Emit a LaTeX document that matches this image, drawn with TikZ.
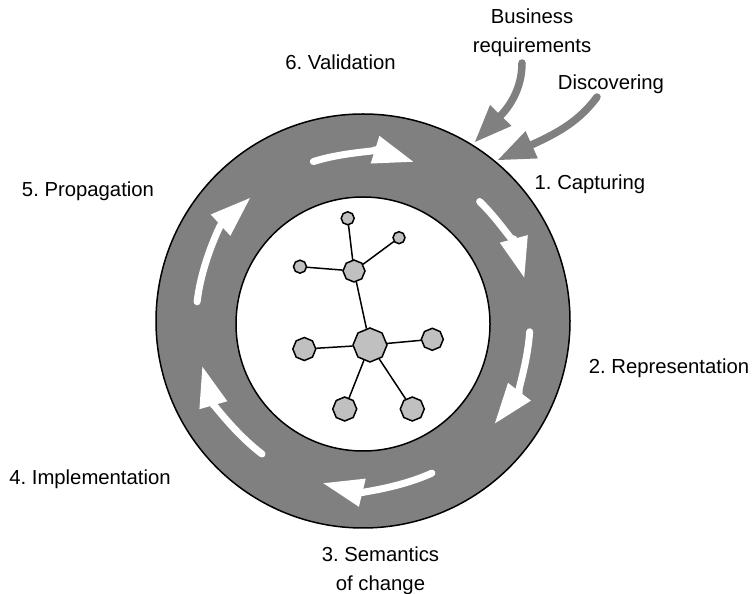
\documentclass[tikz,border=0pt]{standalone}
\usepackage{fontspec}
\setmainfont{Liberation Sans}
\usetikzlibrary{arrows.meta,shapes.geometric}
\definecolor{ringgray}{HTML}{808080}
\definecolor{nodegray}{HTML}{C0C0C0}
\frenchspacing
\begin{document}
\begin{tikzpicture}[x=1pt,y=1pt,
  lbl/.style={font=\fontsize{20.3}{28.7}\selectfont, inner sep=0pt, align=center},
  vertex/.style={regular polygon, regular polygon sides=8, regular polygon rotate=22.5,
                 draw=black, line width=1.5pt, fill=nodegray, inner sep=0pt},
  link/.style={line width=1.5pt},
  flow/.style={white, line width=7pt, line cap=round,
               -{Triangle[length=40pt,width=29pt,line width=0pt]}},
  feed/.style={ringgray, line width=7.5pt, line cap=round,
               -{Triangle[length=37pt,width=30pt,line width=0pt]}},
]
\useasboundingbox (0,0) rectangle (752,594);

% the ring
\coordinate (C) at (363,273);
\coordinate (I) at (363,270);
\draw[line width=1.5pt, fill=ringgray] (C) circle[radius=207];
\draw[line width=1.5pt, fill=white] (I) circle[radius=127];

% clockwise cycle arrows inside the ring
\draw[flow] ([shift={(107.3:167)}]C) arc[start angle=107.3, end angle=72.5, radius=167];
\draw[flow] ([shift={(45.7:167)}]C)  arc[start angle=45.7,  end angle=15.1, radius=167];
\draw[flow] ([shift={(-3.7:167)}]C)  arc[start angle=-3.7,  end angle=-37.8, radius=167];
\draw[flow] ([shift={(-65.6:167)}]C) arc[start angle=-65.6, end angle=-103.7, radius=167];
\draw[flow] ([shift={(232.8:167)}]C) arc[start angle=232.8, end angle=195.9, radius=167];
\draw[flow] ([shift={(173.4:167)}]C) arc[start angle=173.4, end angle=132.6, radius=167];

% ontology graph in the centre
\node[vertex, minimum size=13pt] (n1)  at (347.7,375.7) {};
\node[vertex, minimum size=12pt] (n2)  at (399,356.3) {};
\node[vertex, minimum size=13pt] (n3)  at (300,327.3) {};
\node[vertex, minimum size=22pt] (hub) at (354,323) {};
\node[vertex, minimum size=34pt] (ctr) at (370,249) {};
\node[vertex, minimum size=23pt] (lf)  at (304.3,245) {};
\node[vertex, minimum size=22pt] (rt)  at (432.3,254.7) {};
\node[vertex, minimum size=24pt] (bl)  at (344.7,185) {};
\node[vertex, minimum size=24pt] (br)  at (412.3,185) {};
\draw[link] (n1) -- (hub);
\draw[link] (n2) -- (hub);
\draw[link] (n3) -- (hub);
\draw[link] (hub) -- (ctr);
\draw[link] (ctr) -- (lf);
\draw[link] (ctr) -- (rt);
\draw[link] (ctr) -- (bl);
\draw[link] (ctr) -- (br);

% labels
\node[lbl] (bus)  at (532,560.9) {Business\\requirements};
\node[lbl, anchor=base] (disc) at (611,504) {Discovering};
\node[lbl, anchor=base] (val)  at (340.5,524) {6. Validation};
\node[lbl, anchor=base] (cap)  at (590,404) {1. Capturing};
\node[lbl, anchor=base] (rep)  at (669,220.7) {2. Representation};
\node[lbl] (sem)  at (380.5,23.2) {3. Semantics\\of change};
\node[lbl, anchor=base] (imp)  at (90,109) {4. Implementation};
\node[lbl, anchor=base] (prop) at (88,397) {5. Propagation};

% inputs feeding the capturing phase
\coordinate (busTail)  at (522,531);
\coordinate (busTip)   at (475,452);
\coordinate (discTail) at (597,497);
\coordinate (discTip)  at (498,434);
\draw[feed] (busTail) .. controls (522,504) and (508,486) .. (busTip);
\draw[feed] (discTail) .. controls (580,474) and (560,462) .. (discTip);
\end{tikzpicture}
\end{document}
